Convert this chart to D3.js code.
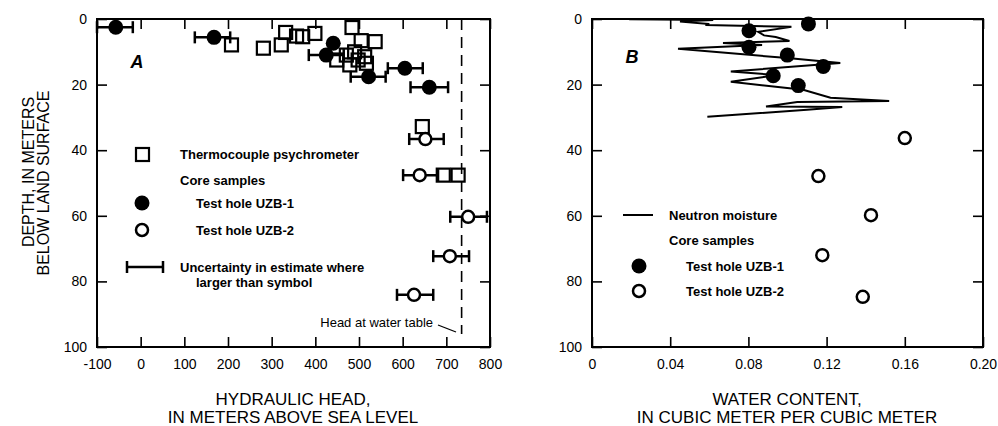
<!DOCTYPE html>
<html>
<head>
<meta charset="utf-8">
<script src="https://cdn.jsdelivr.net/npm/d3@7"></script>
<style>
  body { margin: 0; background: #fff; }
  svg { display: block; font-family: "Liberation Sans", Arial, Helvetica, sans-serif; }
  .tick text { font-size: 14px; fill: #000; }
  .leg { font-size: 13px; font-weight: bold; }
</style>
</head>
<body>
<svg id="chart" width="998" height="426"></svg>
<script>
// ---- panel A data: hydraulic head (m) vs depth (m)
var headTicks = [-100, 0, 100, 200, 300, 400, 500, 600, 700, 800];
var depthTicks = [0, 20, 40, 60, 80, 100];

// thermocouple psychrometer
var tcHead  = [208, 281, 322, 332, 357, 371, 399, 484, 505, 537, 449, 471, 490, 498, 513, 517, 479, 645, 693, 727];
var tcDepth = [7.9, 8.9, 7.9, 4.1, 5.2, 5.4, 4.4, 2.6, 6.6, 6.9, 12.5, 11, 10, 12.5, 11.5, 13.5, 14, 32.8, 47.6, 47.6];

// core samples, test hole UZB-1
var uzb1Head  = [-57, 168, 441, 425, 522, 605, 661];
var uzb1Depth = [2.5, 5.6, 7.4, 11, 17.6, 15, 20.8];
var uzb1Lo    = [-100, 124, null, 385, 481, 566, 618];
var uzb1Hi    = [-18, 205, null, 465, 561, 646, 704];

// core samples, test hole UZB-2
var uzb2Head  = [652, 639, 750, 708, 626];
var uzb2Depth = [36.6, 47.6, 60.3, 72.3, 84.1];
var uzb2Lo    = [615, 601, 709, 670, 587];
var uzb2Hi    = [694, 681, 793, 752, 670];

var waterTableHead = 735;

// ---- panel B data: water content vs depth
var wcTicks = [0, 0.04, 0.08, 0.12, 0.16, 0.20];

var nmDepth = [0.1, 0.3, 0.8, 1.5, 1.8, 2.4, 3.9, 5.0, 5.5, 6.7, 7.3, 7.9, 9.1, 11.9, 13.4, 16.0, 17.1, 19.1, 21.6, 24.0, 25.0, 25.3, 26.7, 26.8, 27.7, 29.8];
var nmWater = [0.019, 0.062, 0.045, 0.060, 0.058, 0.102, 0.085, 0.088, 0.094, 0.101, 0.067, 0.087, 0.044, 0.100, 0.127, 0.071, 0.095, 0.071, 0.108, 0.122, 0.152, 0.105, 0.089, 0.128, 0.110, 0.059];

var wc1 = [0.1107, 0.0803, 0.0803, 0.0999, 0.1183, 0.0927, 0.1055];
var wc1Depth = [1.5, 3.6, 8.6, 11, 14.5, 17.3, 20.3];

var wc2 = [0.160, 0.1158, 0.1427, 0.1178, 0.1385];
var wc2Depth = [36.3, 47.9, 59.8, 72, 84.7];

var svg = d3.select('#chart');
var plotTop = 19, plotBottom = 347, tickLen = 10;

var y = d3.scaleLinear().domain([0, 100]).range([plotTop, plotBottom]);
var xA = d3.scaleLinear().domain([-100, 800]).range([97, 490]);
var xB = d3.scaleLinear().domain([0, 0.20]).range([592, 983]);

function frame(x, ticks, fmt) {
  var g = svg.append('g');
  var left = x.range()[0], right = x.range()[1];

  // bottom axis, ticks pointing in
  g.append('g').attr('transform', 'translate(0,' + plotBottom + ')')
    .call(d3.axisBottom(x).tickValues(ticks).tickFormat(fmt)
      .tickSizeInner(-tickLen).tickSizeOuter(0).tickPadding(12));
  // top axis ticks
  g.append('g').attr('transform', 'translate(0,' + plotTop + ')')
    .call(d3.axisTop(x).tickValues(ticks)
      .tickFormat('').tickSizeInner(-tickLen).tickSizeOuter(0));
  // left axis
  g.append('g').attr('transform', 'translate(' + left + ',0)')
    .call(d3.axisLeft(y).tickValues(depthTicks).tickSizeInner(-tickLen).tickSizeOuter(0).tickPadding(10));
  // right axis ticks
  g.append('g').attr('transform', 'translate(' + right + ',0)')
    .call(d3.axisRight(y).tickValues(depthTicks).tickFormat('').tickSizeInner(-tickLen).tickSizeOuter(0));

  g.selectAll('.domain').remove();
  g.selectAll('.tick line').attr('stroke', '#000').attr('stroke-width', 1.6);

  g.append('rect')
    .attr('x', left).attr('y', plotTop)
    .attr('width', right - left).attr('height', plotBottom - plotTop)
    .attr('fill', 'none').attr('stroke', '#000').attr('stroke-width', 2);
  return g;
}

frame(xA, headTicks, function(d) { return d; });
frame(xB, wcTicks, function(d) { return d === 0 ? '0' : d3.format('.2f')(d); });

// y titles
svg.append('text').attr('transform', 'translate(28,172) rotate(-90)')
  .attr('text-anchor', 'middle').attr('dominant-baseline', 'central')
  .style('font-size', '16px').text('DEPTH, IN METERS');
svg.append('text').attr('transform', 'translate(43,183) rotate(-90)')
  .attr('text-anchor', 'middle').attr('dominant-baseline', 'central')
  .style('font-size', '16px').text('BELOW LAND SURFACE');

// x titles
function xTitle(cx, l1, l2) {
  svg.append('text').attr('x', cx).attr('y', 405).attr('text-anchor', 'middle')
    .style('font-size', '17px').text(l1);
  svg.append('text').attr('x', cx).attr('y', 423).attr('text-anchor', 'middle')
    .style('font-size', '17px').text(l2);
}
xTitle(293, 'HYDRAULIC HEAD,', 'IN METERS ABOVE SEA LEVEL');
xTitle(787, 'WATER CONTENT,', 'IN CUBIC METER PER CUBIC METER');

// panel letters
svg.append('text').attr('x', 137).attr('y', 68).attr('text-anchor', 'middle')
  .style('font-size', '18px').style('font-weight', 'bold').style('font-style', 'italic').text('A');
svg.append('text').attr('x', 632).attr('y', 63).attr('text-anchor', 'middle')
  .style('font-size', '18px').style('font-weight', 'bold').style('font-style', 'italic').text('B');

// ---- panel A marks
var pA = svg.append('g');

// water table
pA.append('line')
  .attr('x1', xA(waterTableHead)).attr('x2', xA(waterTableHead))
  .attr('y1', y(0)).attr('y2', y(96))
  .attr('stroke', '#000').attr('stroke-width', 1.6).attr('stroke-dasharray', '11,7');
pA.append('line').attr('x1', 438).attr('y1', 325).attr('x2', 456).attr('y2', 332)
  .attr('stroke', '#000').attr('stroke-width', 1.3);
pA.append('text').attr('x', 433).attr('y', 327).attr('text-anchor', 'end')
  .style('font-size', '13px').text('Head at water table');

function errBars(g, x, lo, hi, depth) {
  var idx = d3.range(lo.length).filter(function(i) { return lo[i] !== null; });
  var eb = g.selectAll(null).data(idx).enter().append('g');
  eb.append('line')
    .attr('x1', function(i) { return x(lo[i]); }).attr('x2', function(i) { return x(hi[i]); })
    .attr('y1', function(i) { return y(depth[i]); }).attr('y2', function(i) { return y(depth[i]); });
  eb.append('line')
    .attr('x1', function(i) { return x(lo[i]); }).attr('x2', function(i) { return x(lo[i]); })
    .attr('y1', function(i) { return y(depth[i]) - 6; }).attr('y2', function(i) { return y(depth[i]) + 6; });
  eb.append('line')
    .attr('x1', function(i) { return x(hi[i]); }).attr('x2', function(i) { return x(hi[i]); })
    .attr('y1', function(i) { return y(depth[i]) - 6; }).attr('y2', function(i) { return y(depth[i]) + 6; });
  eb.selectAll('line').attr('stroke', '#000').attr('stroke-width', 2.5);
}

errBars(pA, xA, uzb1Lo, uzb1Hi, uzb1Depth);
errBars(pA, xA, uzb2Lo, uzb2Hi, uzb2Depth);

pA.selectAll(null).data(d3.range(tcHead.length)).enter().append('rect')
  .attr('x', function(i) { return xA(tcHead[i]) - 6.5; })
  .attr('y', function(i) { return y(tcDepth[i]) - 6.5; })
  .attr('width', 13).attr('height', 13)
  .attr('fill', 'none').attr('stroke', '#000').attr('stroke-width', 2.2);

pA.selectAll(null).data(d3.range(uzb1Head.length)).enter().append('circle')
  .attr('cx', function(i) { return xA(uzb1Head[i]); })
  .attr('cy', function(i) { return y(uzb1Depth[i]); })
  .attr('r', 7.5).attr('fill', '#000');

pA.selectAll(null).data(d3.range(uzb2Head.length)).enter().append('circle')
  .attr('cx', function(i) { return xA(uzb2Head[i]); })
  .attr('cy', function(i) { return y(uzb2Depth[i]); })
  .attr('r', 6).attr('fill', '#fff').attr('stroke', '#000').attr('stroke-width', 2.5);

// legend A
var lA = svg.append('g');
lA.append('rect').attr('x', 136).attr('y', 148).attr('width', 13).attr('height', 13)
  .attr('fill', 'none').attr('stroke', '#000').attr('stroke-width', 2.2);
lA.append('circle').attr('cx', 142).attr('cy', 203).attr('r', 7.5).attr('fill', '#000');
lA.append('circle').attr('cx', 142).attr('cy', 230).attr('r', 6)
  .attr('fill', '#fff').attr('stroke', '#000').attr('stroke-width', 2.5);
lA.append('path').attr('d', 'M127,267H163M127,261V273M163,261V273')
  .attr('fill', 'none').attr('stroke', '#000').attr('stroke-width', 2.5);
[['Thermocouple psychrometer', 180, 154], ['Core samples', 180, 180],
 ['Test hole UZB-1', 196, 203], ['Test hole UZB-2', 196, 230],
 ['Uncertainty in estimate where', 180, 267], ['larger than symbol', 196, 282]]
  .forEach(function(t) {
    lA.append('text').attr('class', 'leg').attr('x', t[1]).attr('y', t[2])
      .attr('dominant-baseline', 'central').text(t[0]);
  });

// ---- panel B marks
var pB = svg.append('g');
var nmLine = d3.line()
  .x(function(i) { return xB(nmWater[i]); })
  .y(function(i) { return y(nmDepth[i]); });
pB.append('path').datum(d3.range(nmDepth.length)).attr('d', nmLine)
  .attr('fill', 'none').attr('stroke', '#000').attr('stroke-width', 2).attr('stroke-linejoin', 'miter');

pB.selectAll(null).data(d3.range(wc1.length)).enter().append('circle')
  .attr('cx', function(i) { return xB(wc1[i]); })
  .attr('cy', function(i) { return y(wc1Depth[i]); })
  .attr('r', 7.5).attr('fill', '#000');

pB.selectAll(null).data(d3.range(wc2.length)).enter().append('circle')
  .attr('cx', function(i) { return xB(wc2[i]); })
  .attr('cy', function(i) { return y(wc2Depth[i]); })
  .attr('r', 6).attr('fill', '#fff').attr('stroke', '#000').attr('stroke-width', 2.5);

// legend B
var lB = svg.append('g');
lB.append('line').attr('x1', 623).attr('x2', 653).attr('y1', 215).attr('y2', 215)
  .attr('stroke', '#000').attr('stroke-width', 2);
lB.append('circle').attr('cx', 639).attr('cy', 266).attr('r', 7.5).attr('fill', '#000');
lB.append('circle').attr('cx', 639).attr('cy', 291).attr('r', 6)
  .attr('fill', '#fff').attr('stroke', '#000').attr('stroke-width', 2.5);
[['Neutron moisture', 669, 215], ['Core samples', 669, 240],
 ['Test hole UZB-1', 686, 266], ['Test hole UZB-2', 686, 291]]
  .forEach(function(t) {
    lB.append('text').attr('class', 'leg').attr('x', t[1]).attr('y', t[2])
      .attr('dominant-baseline', 'central').text(t[0]);
  });
</script>
</body>
</html>
